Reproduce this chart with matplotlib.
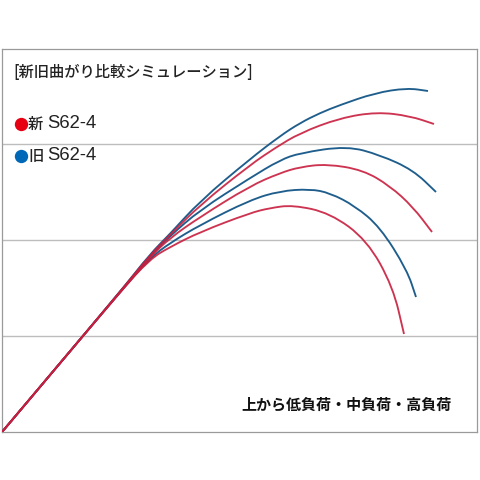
import matplotlib
matplotlib.use("Agg")
import matplotlib.pyplot as plt
from matplotlib.path import Path
from matplotlib.patches import PathPatch

plt.rcParams['font.family'] = ['Noto Sans CJK JP', 'DejaVu Sans']

# Rod bend curves (x, y), chart units
old_low_x  = [0, 118, 148, 168, 198, 248, 278, 308, 328, 353, 378, 405, 414]
old_low_y  = [0, 140, 174, 189, 207, 232, 241, 243, 239, 226, 205, 162, 135]
new_low_x  = [0, 118, 148, 168, 198, 248, 268, 291, 328, 365, 391, 402]
new_low_y  = [0, 140, 173, 185, 200, 219, 224, 227, 219, 192, 145, 98]
old_mid_x  = [0, 118, 148, 168, 198, 248, 278, 298, 345, 378, 411, 434]
old_mid_y  = [0, 140, 176, 196, 222, 254, 272, 279, 286, 277, 262, 240]
new_mid_x  = [0, 118, 148, 168, 198, 248, 278, 298, 325, 361, 388, 411, 430]
new_mid_y  = [0, 140, 175, 194, 215, 246, 259, 265, 268, 262, 246, 225, 200]
old_high_x = [0, 118, 148, 168, 198, 248, 278, 298, 318, 338, 373, 405, 426]
old_high_y = [0, 140, 178, 198, 231, 273, 296, 309, 319, 327, 339, 344, 341]
new_high_x = [0, 118, 148, 168, 198, 248, 273, 298, 338, 375, 408, 432]
new_high_y = [0, 140, 177, 197, 227, 267, 284, 299, 314, 320, 316, 308]

grid_y = [96, 192, 288]

title = "[新旧曲がり比較シミュレーション]"
legend_new = "新"
legend_old = "旧"
model = "S62-4"
note = "上から低負荷・中負荷・高負荷"

RED = "#c81e3e"
BLUE = "#1f5e8c"


def smooth_path(xs, ys):
    pts = list(zip(xs, ys))
    verts = [pts[0]]
    codes = [Path.MOVETO]
    mid = lambda a, b: ((a[0] + b[0]) / 2, (a[1] + b[1]) / 2)
    verts.append(mid(pts[0], pts[1]))
    codes.append(Path.LINETO)
    for i in range(1, len(pts) - 1):
        verts += [pts[i], mid(pts[i], pts[i + 1])]
        codes += [Path.CURVE3, Path.CURVE3]
    verts.append(pts[-1])
    codes.append(Path.LINETO)
    return Path(verts, codes)


fig = plt.figure(figsize=(4.8, 4.8), dpi=100)
ax = fig.add_axes([2/480, 48/480, 475/480, 383/480])
ax.set_xlim(0, 475)
ax.set_ylim(0, 383)
ax.set_xticks([])
ax.set_yticks([])
for s in ax.spines.values():
    s.set_color("#9a9a9a")
    s.set_linewidth(0.9)

for gy in grid_y:
    ax.axhline(gy, color="#bdbdbd", lw=1.0, zorder=1)

lw = 1.35
for xs, ys in [(old_high_x, old_high_y), (old_mid_x, old_mid_y), (old_low_x, old_low_y)]:
    ax.add_patch(PathPatch(smooth_path(xs, ys), fill=False, edgecolor=BLUE, lw=lw,
                           zorder=3, capstyle="butt"))
for xs, ys in [(new_high_x, new_high_y), (new_mid_x, new_mid_y), (new_low_x, new_low_y)]:
    ax.add_patch(PathPatch(smooth_path(xs, ys), fill=False, edgecolor=RED, lw=lw,
                           zorder=4, alpha=0.9, capstyle="butt"))

ax.text(11, 359, title, fontsize=11.0, ha="left", va="center", color="#222222",
        fontweight="medium")

ax.plot([19], [308], "o", color="#e60012", ms=9.6, mec="none", clip_on=False)
ax.plot([19], [276], "o", color="#0068b7", ms=9.6, mec="none", clip_on=False)
ax.text(26, 308, legend_new, fontsize=11, ha="left", va="center", color="#222222",
        fontweight="medium")
ax.text(26, 276, legend_old, fontsize=11, ha="left", va="center", color="#222222",
        fontweight="medium")
ax.text(45, 308, model, fontsize=13.3, ha="left", va="center", color="#222222",
        family=["Liberation Sans", "DejaVu Sans"])
ax.text(45, 276, model, fontsize=13.3, ha="left", va="center", color="#222222",
        family=["Liberation Sans", "DejaVu Sans"])

ax.text(450, 27, note, fontsize=10.8, ha="right", va="center", color="#111111",
        fontweight="bold")

fig.savefig("out.png", dpi=100, facecolor="white")
